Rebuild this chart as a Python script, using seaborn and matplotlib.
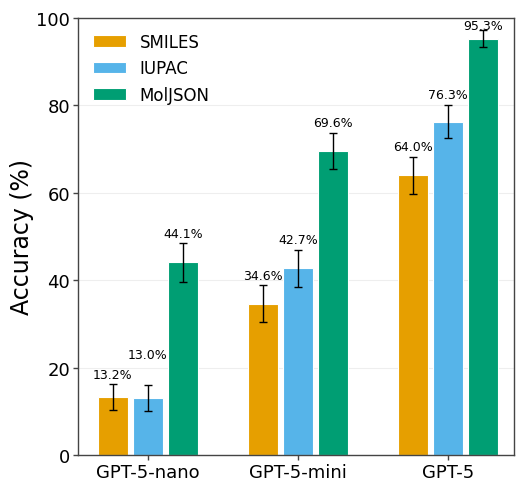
import pandas as pd
import matplotlib
matplotlib.use('Agg')
import matplotlib.pyplot as plt
import seaborn as sns

# Data
models = ['GPT-5-nano', 'GPT-5-mini', 'GPT-5']
formats = ['SMILES', 'IUPAC', 'MolJSON']
smiles_acc = [13.2, 34.6, 64.0]
iupac_acc = [13.0, 42.7, 76.3]
moljson_acc = [44.1, 69.6, 95.3]
smiles_err = [3.0, 4.2, 4.2]
iupac_err = [3.0, 4.3, 3.8]
moljson_err = [4.4, 4.1, 1.9]
colors = ['#E69F00', '#56B4E9', '#009E73']

acc = [smiles_acc, iupac_acc, moljson_acc]
err = [smiles_err, iupac_err, moljson_err]
rows = []
for f, vals in zip(formats, acc):
    for m, v in zip(models, vals):
        rows.append({'model': m, 'format': f, 'accuracy': v})
df = pd.DataFrame(rows)

sns.set_style('white')
plt.rcParams['font.family'] = ['DejaVu Sans']
plt.rcParams['text.color'] = 'black'
plt.rcParams['axes.labelcolor'] = 'black'
plt.rcParams['xtick.color'] = 'black'
plt.rcParams['ytick.color'] = 'black'

fig = plt.figure(figsize=(5.16, 4.81), dpi=100)
ax = fig.add_axes([0.151, 0.052, 0.845, 0.9085])

sns.barplot(data=df, x='model', y='accuracy', hue='format', order=models,
            hue_order=formats, palette=colors, saturation=1, width=0.7, gap=0.14,
            edgecolor='white', linewidth=0.8, errorbar=None, ax=ax, zorder=2)

# error bars + value labels
bar_conts = list(ax.containers)
for i, cont in enumerate(bar_conts):
    for j, bar in enumerate(cont.patches):
        x = bar.get_x() + bar.get_width() / 2
        v = acc[i][j]
        e = err[i][j]
        ax.errorbar(x, v, yerr=e, fmt='none', ecolor='black', elinewidth=1,
                    capsize=3, capthick=1, zorder=3)
        bump = 15 if (formats[i] == 'IUPAC' and models[j] == 'GPT-5-nano') else 0
        ax.annotate(f'{v:.1f}%', (x, min(v + e, 96)), xytext=(0, 2.5 + bump),
                    textcoords='offset points', ha='center', va='bottom',
                    fontsize=9)

ax.set_ylim(0, 100)
ax.set_xlim(-0.467, 2.44)
ax.set_yticks([0, 20, 40, 60, 80, 100])
ax.set_xlabel('')
ax.set_ylabel('Accuracy (%)', fontsize=17, labelpad=2)
ax.tick_params(axis='both', labelsize=13, length=3.5, width=1, pad=2,
               color='#444444', bottom=True, left=True)
ax.yaxis.grid(True, color='#eeeeee', linewidth=0.8, zorder=0)
ax.set_axisbelow(True)
for s in ax.spines.values():
    s.set_color('#444444')
    s.set_linewidth(1)

ax.legend(loc='upper left', frameon=False, fontsize=12)

plt.savefig('out.png', dpi=100)
